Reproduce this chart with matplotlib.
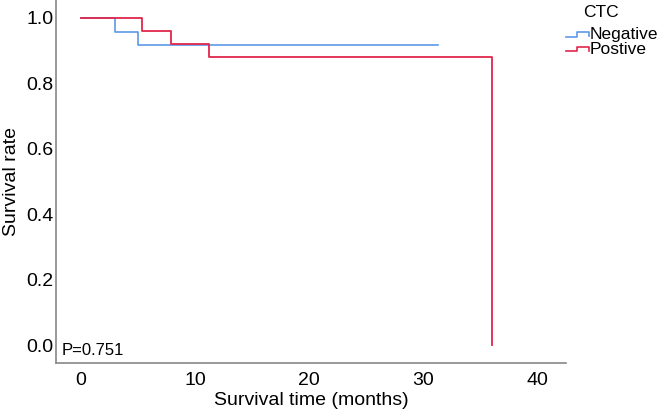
import matplotlib
matplotlib.use("Agg")
import matplotlib.pyplot as plt
from matplotlib.lines import Line2D
from matplotlib.legend_handler import HandlerBase

plt.rcParams['font.family'] = ['Liberation Sans', 'DejaVu Sans']

# Kaplan-Meier steps
neg_time = [0, 3.0, 5.0, 31.3]
neg_surv = [1.0, 0.958, 0.917, 0.917]
pos_time = [0, 5.3, 7.9, 11.2, 36.0, 36.0]
pos_surv = [1.0, 0.96, 0.92, 0.88, 0.88, 0.0]

x_ticks = [0, 10, 20, 30, 40]
y_ticks = [0.0, 0.2, 0.4, 0.6, 0.8, 1.0]

blue = '#5b9ae6'
red = '#e1264b'
grey = '#888888'


class StepHandler(HandlerBase):
    # little step glyph like the SPSS legend
    def create_artists(self, legend, orig_handle, xdescent, ydescent,
                       width, height, fontsize, trans):
        x0 = -xdescent
        lo = -ydescent + height * 0.2
        hi = -ydescent + height * 0.6
        xs = [x0, x0 + width * 0.45, x0 + width * 0.45, x0 + width, x0 + width]
        ys = [lo, lo, hi, hi, lo + height * 0.05]
        ln = Line2D(xs, ys, color=orig_handle.get_color(), lw=1.2, transform=trans)
        return [ln]


fig = plt.figure(figsize=(6.61, 4.16), dpi=100)
ax = fig.add_axes([0.0847, 0.1274, 0.7716, 0.8726])

ax.step(neg_time, neg_surv, where='post', color=blue, lw=1.2)
ax.step(pos_time, pos_surv, where='post', color=red, lw=1.3)

ax.set_xlim(-2.2, 42.5)
ax.set_ylim(-0.055, 1.055)
ax.set_xticks(x_ticks)
ax.set_yticks(y_ticks)
ax.set_yticklabels(['%.1f' % v for v in y_ticks])
ax.tick_params(length=0, labelsize=14)
ax.tick_params(axis='x', pad=6.5)
ax.tick_params(axis='y', pad=2)

for s in ['top', 'right']:
    ax.spines[s].set_visible(False)
for s in ['left', 'bottom']:
    ax.spines[s].set_color(grey)
    ax.spines[s].set_linewidth(1.2)

ax.set_xlabel('Survival time (months)', fontsize=14, labelpad=2)
ax.set_ylabel('Survival rate', fontsize=14, labelpad=4)

ax.text(0.012, 0.015, 'P=0.751', transform=ax.transAxes, fontsize=12,
        ha='left', va='bottom')

# legend title drawn on its own so the rows can sit tight
fig.text(0.909, 0.969, 'CTC', fontsize=12.5, ha='center', va='center')
handles = [Line2D([], [], color=blue), Line2D([], [], color=red)]
leg = fig.legend(handles, ['Negative', 'Postive'],
                 loc='upper left', bbox_to_anchor=(0.857, 0.935),
                 frameon=False, fontsize=12.5,
                 handler_map={Line2D: StepHandler()},
                 handlelength=1.3, handletextpad=0.05, labelspacing=-0.03,
                 borderaxespad=0, borderpad=0)

fig.savefig('out.png', dpi=100)
